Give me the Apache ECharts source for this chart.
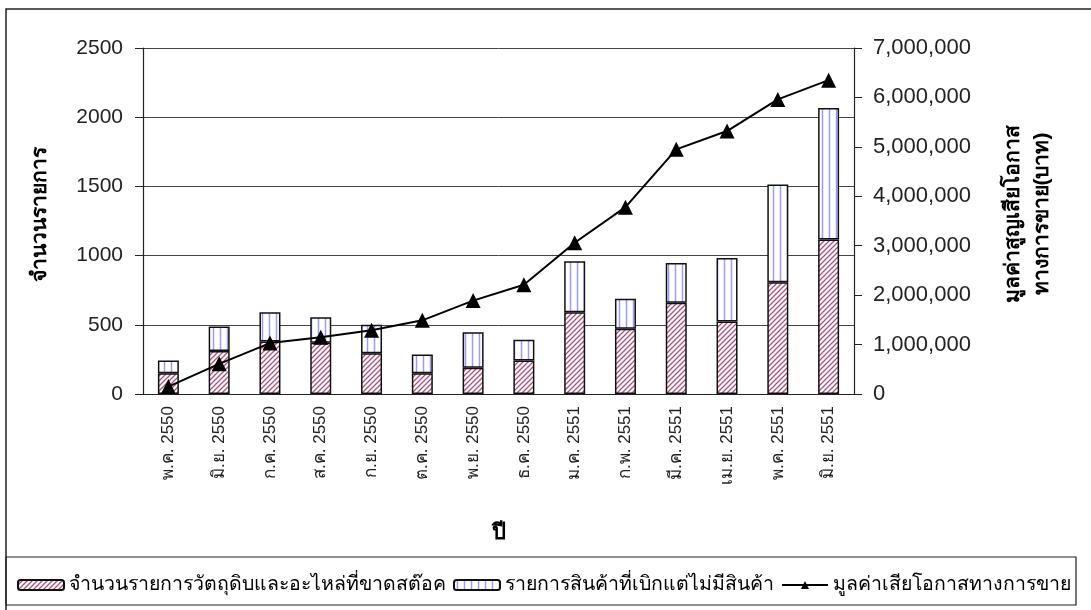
<!DOCTYPE html>
<html>
<head>
<meta charset="utf-8">
<script src="https://cdn.jsdelivr.net/npm/echarts@6/dist/echarts.min.js"></script>
<style>
    html, body { margin: 0; padding: 0; background: #fff; }
    #figure { width: 1091px; height: 610px; }
</style>
</head>
<body>
<div id="figure"></div>
<script>
    const categories = ['พ.ค. 2550', 'มิ.ย. 2550', 'ก.ค. 2550', 'ส.ค. 2550', 'ก.ย. 2550', 'ต.ค. 2550', 'พ.ย. 2550',
        'ธ.ค. 2550', 'ม.ค. 2551', 'ก.พ. 2551', 'มี.ค. 2551', 'เม.ย. 2551', 'พ.ค. 2551', 'มิ.ย. 2551'];
    const stockOut = [150, 310, 380, 370, 295, 150, 189, 242, 591, 471, 659, 524, 808, 1117];
    const noStock = [92, 178, 211, 185, 205, 136, 258, 150, 369, 217, 287, 458, 705, 950];
    const lossValue = [150000, 610000, 1030000, 1150000, 1290000, 1490000, 1890000, 2210000,
        3060000, 3780000, 4950000, 5320000, 5960000, 6350000];
    const seriesNames = ['จำนวนรายการวัตถุดิบและอะไหล่ที่ขาดสต๊อค', 'รายการสินค้าที่เบิกแต่ไม่มีสินค้า', 'มูลค่าเสียโอกาสทางการขาย'];

    const font = '"Liberation Sans", Arial, sans-serif';

    // little canvas tiles for the hatch fills
    function tile(w, h, draw) {
        const c = document.createElement('canvas');
        c.width = w;
        c.height = h;
        const ctx = c.getContext('2d');
        ctx.fillStyle = '#ffffff';
        ctx.fillRect(0, 0, w, h);
        draw(ctx);
        return c;
    }
    const diag = tile(5, 5, ctx => {
        ctx.strokeStyle = '#b0507c';
        ctx.lineWidth = 1.3;
        ctx.beginPath();
        ctx.moveTo(-1, 6); ctx.lineTo(6, -1);
        ctx.moveTo(-3.5, 3.5); ctx.lineTo(3.5, -3.5);
        ctx.moveTo(1.5, 8.5); ctx.lineTo(8.5, 1.5);
        ctx.stroke();
    });
    const vert = tile(7, 4, ctx => {
        ctx.strokeStyle = '#9a9aff';
        ctx.lineWidth = 1.5;
        ctx.beginPath();
        ctx.moveTo(3.5, 0); ctx.lineTo(3.5, 4);
        ctx.stroke();
    });

    const figure = echarts.init(document.getElementById('figure'));
    figure.setOption({
        animation: false,
        backgroundColor: '#ffffff',
        textStyle: {fontFamily: font},
        grid: {left: 143, right: 237, top: 48, bottom: 216},
        graphic: [{
            type: 'rect',
            shape: {x: 6, y: 9, width: 1110, height: 620},
            style: {fill: 'none', stroke: '#222', lineWidth: 1.5},
            silent: true
        }, {
            type: 'rect',
            shape: {x: 6, y: 557, width: 1070, height: 48},
            style: {fill: 'none', stroke: '#222', lineWidth: 1.2},
            silent: true
        }],
        legend: {
            left: 12,
            top: 570,
            itemWidth: 46,
            itemHeight: 10,
            itemGap: 7,
            textStyle: {fontSize: 19.5, color: '#000'},
            data: seriesNames
        },
        xAxis: {
            type: 'category',
            data: categories,
            name: 'ปี',
            nameLocation: 'middle',
            nameGap: 128,
            nameTextStyle: {fontSize: 22, fontWeight: 'bold', color: '#000'},
            axisLine: {lineStyle: {color: '#222', width: 1.2}},
            axisTick: {length: 6, lineStyle: {color: '#222'}},
            axisLabel: {rotate: 90, margin: 12, fontSize: 17, color: '#222', interval: 0}
        },
        yAxis: [{
            type: 'value',
            min: 0,
            max: 2500,
            interval: 500,
            name: 'จำนวนรายการ',
            nameLocation: 'middle',
            nameRotate: 90,
            nameGap: 92,
            nameTextStyle: {fontSize: 21, fontWeight: 'bold', color: '#000', padding: [0, 0, 0, 14]},
            axisLine: {show: true, lineStyle: {color: '#222', width: 1.2}},
            axisTick: {show: true, length: 8, lineStyle: {color: '#222'}},
            axisLabel: {fontSize: 21, color: '#222', margin: 20, formatter: v => String(v)},
            splitLine: {lineStyle: {color: '#444', width: 1}}
        }, {
            type: 'value',
            min: 0,
            max: 7000000,
            interval: 1000000,
            name: '{t|มูลค่าสูญเสียโอกาส}\n{t|ทางการขาย(บาท)}',
            nameLocation: 'middle',
            nameRotate: 90,
            nameGap: 145,
            nameTextStyle: {
                fontSize: 21, fontWeight: 'bold', color: '#000', padding: [0, 0, 0, 14],
                rich: {t: {fontSize: 21, fontWeight: 'bold', color: '#000', lineHeight: 29}}
            },
            axisLine: {show: true, lineStyle: {color: '#222', width: 1.2}},
            axisTick: {show: true, length: 8, lineStyle: {color: '#222'}},
            axisLabel: {
                fontSize: 22, color: '#222', margin: 19,
                formatter: v => v.toLocaleString('en-US')
            },
            splitLine: {show: false}
        }],
        series: [{
            name: seriesNames[0],
            type: 'bar',
            stack: 'items',
            barWidth: 21,
            data: stockOut,
            itemStyle: {color: {image: diag, repeat: 'repeat'}, borderColor: '#111', borderWidth: 1.5}
        }, {
            name: seriesNames[1],
            type: 'bar',
            stack: 'items',
            barWidth: 21,
            data: noStock,
            itemStyle: {color: {image: vert, repeat: 'repeat'}, borderColor: '#111', borderWidth: 1.5}
        }, {
            name: seriesNames[2],
            type: 'line',
            yAxisIndex: 1,
            data: lossValue,
            symbol: 'triangle',
            symbolSize: 15,
            itemStyle: {color: '#000'},
            lineStyle: {color: '#000', width: 2}
        }]
    });
</script>
</body>
</html>
